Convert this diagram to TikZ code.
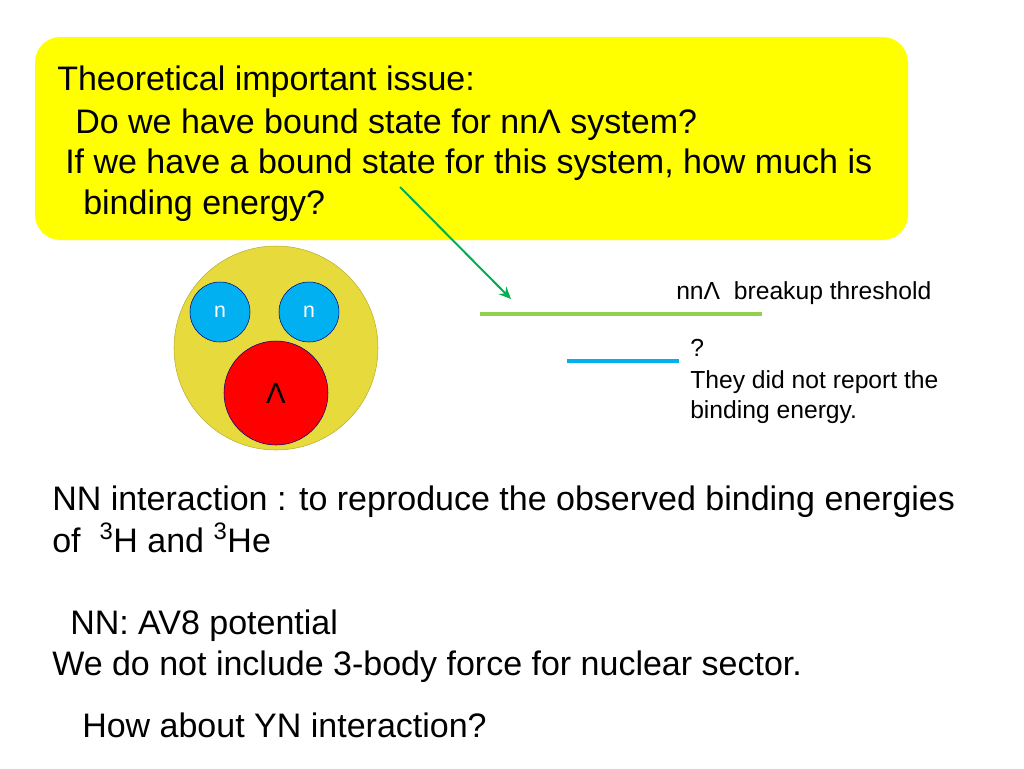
\documentclass[tikz,border=0pt]{standalone}
\usepackage{fontspec}
\usetikzlibrary{arrows.meta}
\setmainfont{Liberation Sans}
\begin{document}
\begin{tikzpicture}[x=0.75pt,y=-0.75pt,
  big/.style={anchor=base west,inner sep=0,font=\fontsize{25.5pt}{30pt}\selectfont},
  small/.style={anchor=base west,inner sep=0,font=\fontsize{18.5pt}{22pt}\selectfont},
  part/.style={circle,draw=blue!50!black,fill=cyan!70!blue!60,inner sep=0,minimum size=45pt,font=\fontsize{16pt}{19pt}\selectfont,text=white}]
\useasboundingbox (0,0) rectangle (1024,768);
\definecolor{ylw}{RGB}{255,255,0}
\definecolor{olive}{RGB}{230,218,60}
\definecolor{cyn}{RGB}{0,176,240}
\definecolor{lgreen}{RGB}{146,208,80}
\definecolor{dgreen}{RGB}{0,176,80}
\fill[ylw,rounded corners=19pt] (35,37) rectangle (908,240);
\node[big] (t1) at (57,90) {Theoretical important issue:};
\node[big] (t2) at (75,133) {Do we have bound state for nnΛ system?};
\node[big] (t3) at (65,173) {If we have a bound state for this system, how much is};
\node[big] (t4) at (83,214) {binding energy?};
\node[circle,draw=olive!80!black,fill=olive,minimum size=153pt,inner sep=0] (big) at (276,348) {};
\node[part,fill=cyn] (n1) at (220,312) {n};
\node[part,fill=cyn] (n2) at (309,312) {n};
\node[circle,draw=blue!50!black,fill=red,minimum size=78pt,inner sep=0,font=\fontsize{22pt}{26pt}\selectfont] (L) at (276,393) {Λ};
\coordinate (g1) at (480,314); \coordinate (g2) at (762,314);
\draw[lgreen,line width=2.3pt] (g1) -- (g2);
\coordinate (b1) at (567,361); \coordinate (b2) at (679,361);
\draw[cyn,line width=2.3pt] (b1) -- (b2);
\coordinate (a1) at (400,187); \coordinate (a2) at (511,299);
\draw[dgreen,line width=1.5pt,-{Stealth[length=9pt,width=8pt]}] (a1) -- (a2);
\node[small] (th) at (676,299) {nnΛ\ \ breakup threshold};
\node[small] (q) at (690,356) {?};
\node[small] (r1) at (690,388) {They did not report the};
\node[small] (r2) at (690,418) {binding energy.};
\node[big] (s1) at (52,510) {NN interaction : to reproduce the observed binding energies};
\node[big] (s2) at (52,552) {of\ \ \textsuperscript{3}H and \textsuperscript{3}He};
\node[big] (s3) at (70,634) {NN: AV8 potential};
\node[big] (s4) at (52,675) {We do not include 3-body force for nuclear sector.};
\node[big] (s5) at (82,737) {How about YN interaction?};
\end{tikzpicture}
\end{document}
